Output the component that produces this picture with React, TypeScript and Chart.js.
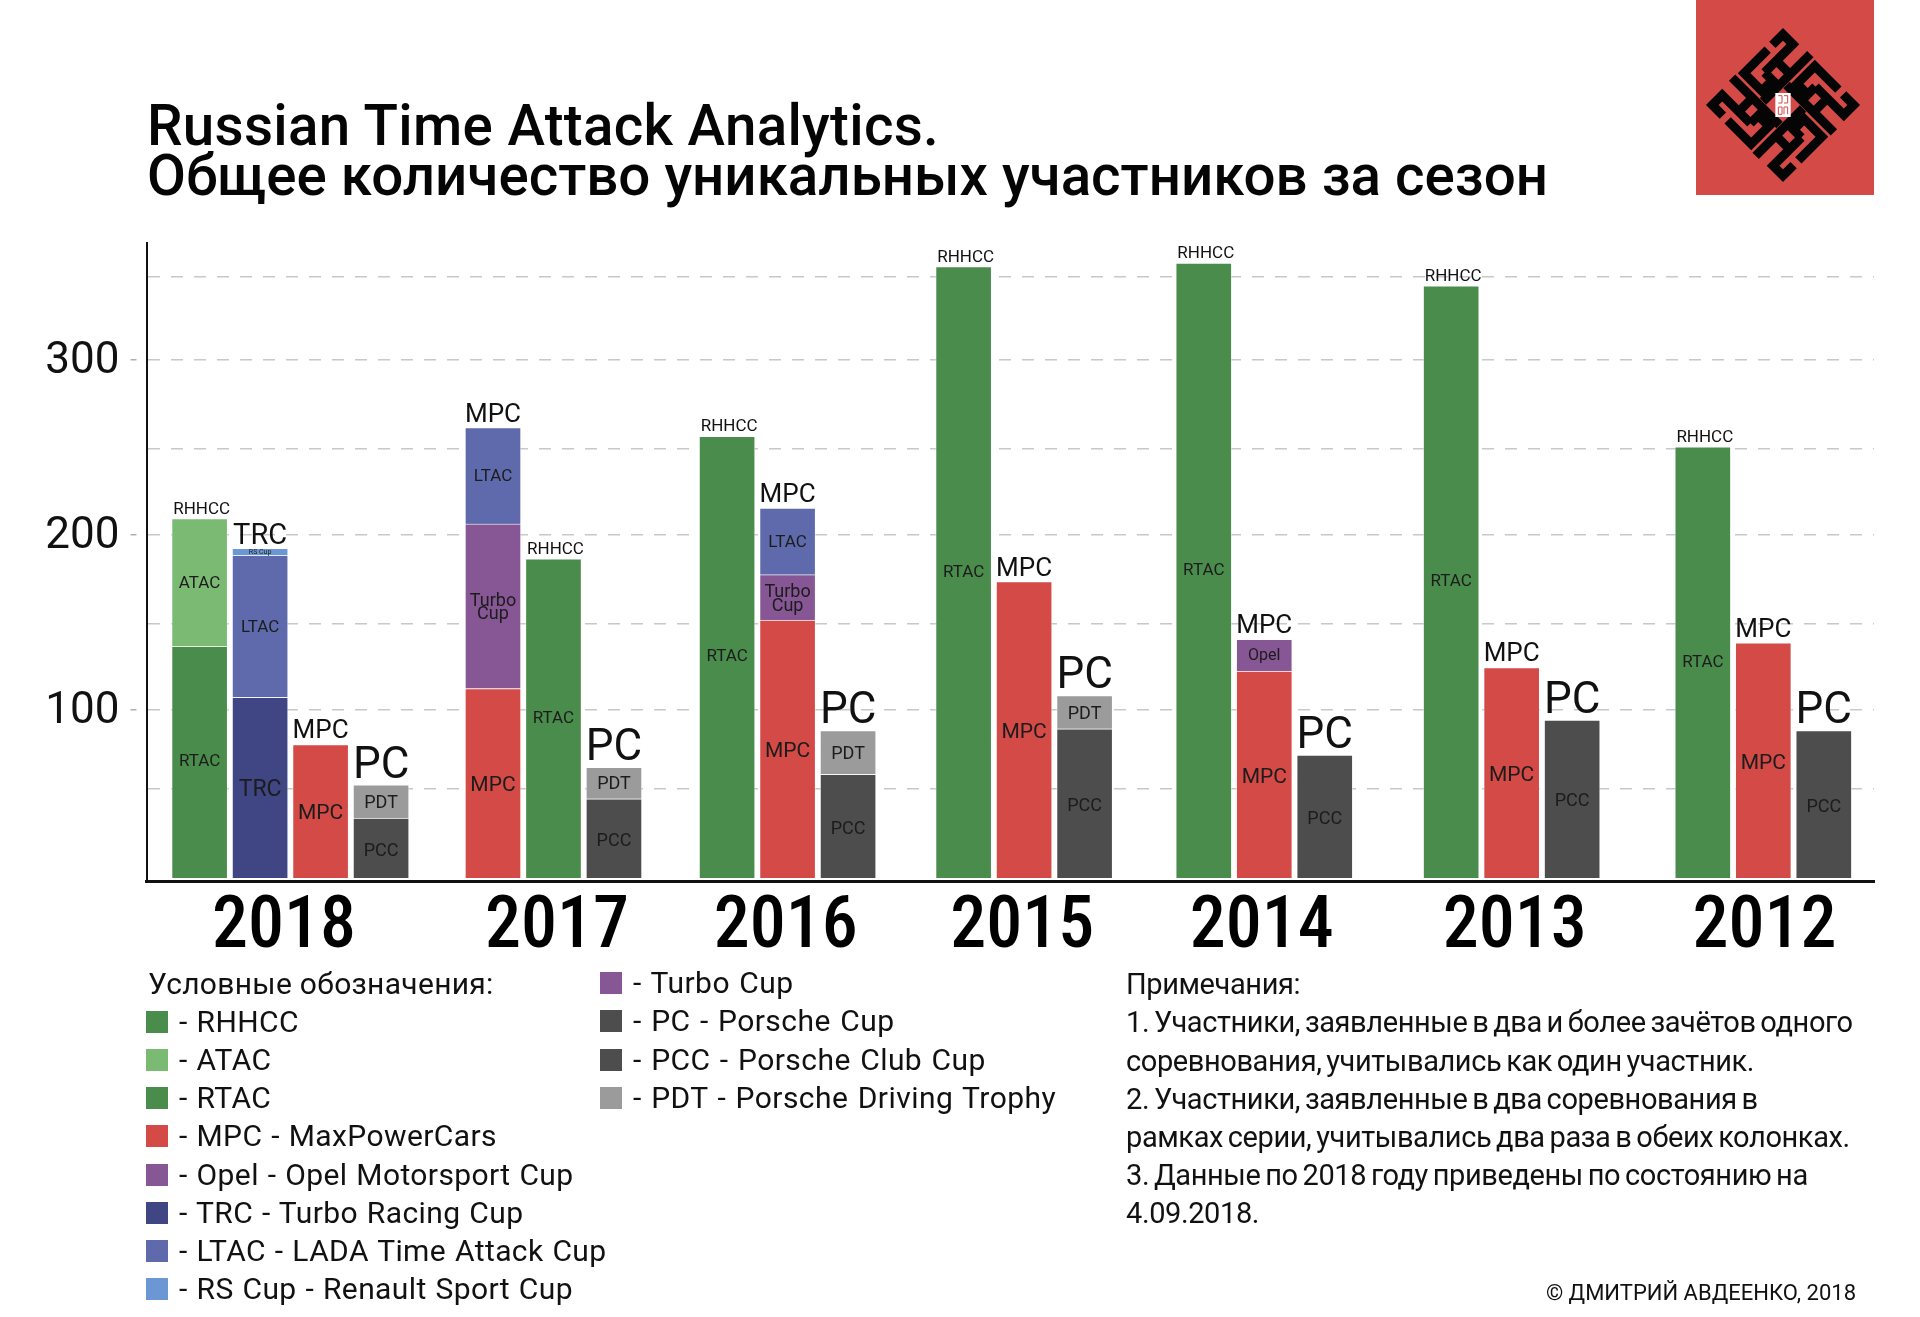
import React, { useEffect, useRef } from "react";
import { Chart, registerables } from "chart.js";

Chart.register(...registerables);

const titleLines = ["Russian Time Attack Analytics.", "Общее количество уникальных участников за сезон"];
const years = ["2018", "2017", "2016", "2015", "2014", "2013", "2012"];
const columnHeaders = [
  "RHHCC", "TRC", "MPC", "PC",
  "MPC", "RHHCC", "PC",
  "RHHCC", "MPC", "PC",
  "RHHCC", "MPC", "PC",
  "RHHCC", "MPC", "PC",
  "RHHCC", "MPC", "PC",
  "RHHCC", "MPC", "PC",
];
const rtac = [136, 0, 0, 0, 0, 186, 0, 256, 0, 0, 353, 0, 0, 355, 0, 0, 342, 0, 0, 250, 0, 0];
const atac = [73, 0, 0, 0, 0, 0, 0, 0, 0, 0, 0, 0, 0, 0, 0, 0, 0, 0, 0, 0, 0, 0];
const trc = [0, 107, 0, 0, 0, 0, 0, 0, 0, 0, 0, 0, 0, 0, 0, 0, 0, 0, 0, 0, 0, 0];
const mpc = [0, 0, 80, 0, 112, 0, 0, 0, 151, 0, 0, 173, 0, 0, 122, 0, 0, 124, 0, 0, 138, 0];
const opel = [0, 0, 0, 0, 0, 0, 0, 0, 0, 0, 0, 0, 0, 0, 18, 0, 0, 0, 0, 0, 0, 0];
const turbo = [0, 0, 0, 0, 94, 0, 0, 0, 26, 0, 0, 0, 0, 0, 0, 0, 0, 0, 0, 0, 0, 0];
const ltac = [0, 81, 0, 0, 55, 0, 0, 0, 38, 0, 0, 0, 0, 0, 0, 0, 0, 0, 0, 0, 0, 0];
const rsCup = [0, 4, 0, 0, 0, 0, 0, 0, 0, 0, 0, 0, 0, 0, 0, 0, 0, 0, 0, 0, 0, 0];
const pcc = [0, 0, 0, 38, 0, 0, 49, 0, 0, 63, 0, 0, 89, 0, 0, 74, 0, 0, 94, 0, 0, 88];
const pdt = [0, 0, 0, 19, 0, 0, 18, 0, 0, 25, 0, 0, 19, 0, 0, 0, 0, 0, 0, 0, 0, 0];

const gridValues = [54.5, 100, 149, 200, 249, 300, 347];
const labeledTicks = [100, 200, 300];

const legendLeft = [
  ["Условные обозначения:", ""],
  ["- RHHCC", "#4a8c4c"],
  ["- ATAC", "#7bba73"],
  ["- RTAC", "#4a8c4c"],
  ["- MPC - MaxPowerCars", "#d34a46"],
  ["- Opel - Opel Motorsport Cup", "#865794"],
  ["- TRC - Turbo Racing Cup", "#3f4683"],
  ["- LTAC - LADA Time Attack Cup", "#5e6aac"],
  ["- RS Cup - Renault Sport Cup", "#6b98d4"],
];
const legendRight = [
  ["- Turbo Cup", "#865794"],
  ["- PC - Porsche Cup", "#4d4d4d"],
  ["- PCC - Porsche Club Cup", "#4d4d4d"],
  ["- PDT - Porsche Driving Trophy", "#9b9b9b"],
];
const notes = [
  "Примечания:",
  "1. Участники, заявленные в два и более зачётов одного",
  "соревнования, учитывались как один участник.",
  "2. Участники, заявленные в два соревнования в",
  "рамках серии, учитывались два раза в обеих колонках.",
  "3. Данные по 2018 году приведены по состоянию на",
  "4.09.2018.",
];
const credit = "© ДМИТРИЙ АВДЕЕНКО, 2018";

// layout of the horizontal axis, in column widths
const groupStarts = [0, 4.85, 8.72, 12.63, 16.6, 20.69, 24.85];
const groupSizes = [4, 3, 3, 3, 3, 3, 3];
const yearTicks = [1.395, 5.91, 9.69, 13.6, 17.56, 21.74, 25.87];
const barFloor = 3.7;

const FONT = "Roboto";
const series = [
  { label: "RTAC", values: rtac, color: "#4a8c4c", size: 17, dy: 0 },
  { label: "ATAC", values: atac, color: "#7bba73", size: 17, dy: 1 },
  { label: "TRC", values: trc, color: "#3f4683", size: 23, dy: 3 },
  { label: "MPC", values: mpc, color: "#d34a46", size: 21, dy: 3 },
  { label: "Opel", values: opel, color: "#865794", size: 16, dy: 1 },
  { label: "Turbo\nCup", values: turbo, color: "#865794", size: 18, dy: 2 },
  { label: "LTAC", values: ltac, color: "#5e6aac", size: 17, dy: 1 },
  { label: "RS Cup", values: rsCup, color: "#6b98d4", size: 7, dy: 0 },
  { label: "PCC", values: pcc, color: "#4d4d4d", size: 18, dy: 3 },
  { label: "PDT", values: pdt, color: "#9b9b9b", size: 18, dy: 2 },
];
const headerFont: Record<string, [number, number]> = { RHHCC: [17, 5], TRC: [29, 4], MPC: [26, 6], PC: [44, 7] };

function columnSlots() {
  const out: number[] = [];
  groupStarts.forEach((s, g) => {
    for (let i = 0; i < groupSizes[g]; i++) out.push(s + i);
  });
  return out;
}

function buildDatasets() {
  const slots = columnSlots();
  const running = slots.map(() => 0);
  return series.map((s) => {
    const points: any[] = [];
    s.values.forEach((v, i) => {
      if (!v) return;
      const start = running[i] === 0 ? barFloor : running[i];
      running[i] += v;
      points.push({ x: slots[i], y: [start, running[i]], col: i });
    });
    return {
      label: s.label,
      data: points,
      backgroundColor: s.color,
      borderColor: "rgba(255,255,255,0.45)",
      borderWidth: 1,
      barThickness: 56,
      size: s.size,
      dy: s.dy,
    };
  });
}

const barLabelPlugin = {
  id: "barLabels",
  afterDatasetsDraw(chart: any) {
    const ctx = chart.ctx;
    ctx.save();
    ctx.textAlign = "center";
    ctx.textBaseline = "middle";
    ctx.fillStyle = "#1c1c1c";
    const tops: Record<number, { x: number; y: number }> = {};
    chart.data.datasets.forEach((ds: any, di: number) => {
      const meta = chart.getDatasetMeta(di);
      meta.data.forEach((bar: any, i: number) => {
        const col = ds.data[i].col;
        if (!tops[col] || bar.y < tops[col].y) tops[col] = { x: bar.x, y: bar.y };
        ctx.font = `400 ${ds.size}px ${FONT}`;
        const lines = ds.label.split("\n");
        const mid = (bar.y + bar.base) / 2 + ds.dy;
        lines.forEach((t: string, k: number) => {
          ctx.fillText(t, bar.x, mid + (k - (lines.length - 1) / 2) * 13.5);
        });
      });
    });
    ctx.textBaseline = "alphabetic";
    ctx.fillStyle = "#111";
    Object.keys(tops).forEach((k) => {
      const col = Number(k);
      const h = columnHeaders[col];
      const [size, gap] = headerFont[h];
      ctx.font = `400 ${size}px ${FONT}`;
      ctx.fillText(h, tops[col].x + (h === "RHHCC" ? 2 : 0), tops[col].y - gap);
    });
    ctx.restore();
  },
};

function Logo() {
  const piece = "M-150 -105 L-150 -150 L-108 -150 L-108 -30 M-150 -85 L-150 15 L-75 15 L-75 -30 M-50 35 L-50 -166 M-108 -30 L-50 -30 M-108 -80 L-50 -80";
  return (
    <svg width={178} height={195} style={{ position: "absolute", left: 1696, top: 0 }}>
      <rect x={0} y={0} width={178} height={195} fill="#d34a46" />
      <g transform="translate(87,105) scale(0.3333)">
        {[45, 135, 225, 315].map((r) => (
          <path key={r} d={piece} transform={`rotate(${r})`} fill="none" stroke="#050505" strokeWidth={27} />
        ))}
        <rect x={-23} y={-36} width={46} height={72} fill="#fff" />
        <path d="M-14 -28 H-3 V-6 H-14 M3 -28 H14 V-6 H3 M-14 6 V28 H-3 V6 Z M3 28 V6 H14 V28" fill="none" stroke="#d34a46" strokeWidth={3} />
      </g>
    </svg>
  );
}

const textBase: React.CSSProperties = { position: "absolute", whiteSpace: "pre", fontFamily: FONT, color: "#111" };

export default function App() {
  const ref = useRef<HTMLCanvasElement>(null);
  useEffect(() => {
    const chart = new Chart(ref.current!, {
      type: "bar",
      data: { datasets: buildDatasets() as any },
      plugins: [barLabelPlugin as any],
      options: {
        responsive: false,
        animation: false,
        layout: { padding: { left: 0, right: 46, top: 243, bottom: 0 } },
        plugins: { legend: { display: false }, title: { display: false }, tooltip: { enabled: false } },
        scales: {
          x: {
            type: "linear",
            stacked: true,
            offset: false,
            min: -0.878,
            max: 27.68,
            afterBuildTicks(scale: any) {
              scale.ticks = yearTicks.map((value) => ({ value }));
            },
            afterFit(scale: any) {
              scale.height = 436;
            },
            ticks: {
              autoSkip: false,
              maxRotation: 0,
              padding: 5,
              color: "#000",
              font: { family: FONT, size: 72, weight: "500 condensed" },
              callback: (_v: any, i: number) => years[i],
            },
            grid: { display: false, drawTicks: false },
            border: { display: true, color: "#111", width: 3 },
          },
          y: {
            min: 2,
            max: 366.5,
            afterBuildTicks(scale: any) {
              scale.ticks = gridValues.map((value) => ({ value }));
            },
            afterFit(scale: any) {
              scale.width = 146.5;
            },
            ticks: {
              autoSkip: false,
              padding: 11,
              labelOffset: 3,
              color: "#111",
              font: { family: FONT, size: 44 },
              callback: (v: any) => (labeledTicks.includes(v) ? String(v) : ""),
            },
            grid: {
              color: "#c8c8c8",
              lineWidth: 1.5,
              tickLength: 16,
              tickWidth: 1.5,
              tickBorderDash: [6, 10],
              tickColor: (c: any) => (c.tick && labeledTicks.includes(c.tick.value) ? "#b0b0b0" : "rgba(0,0,0,0)"),
            } as any,
            border: { display: true, color: "#111", width: 2, dash: [12, 11] } as any,
          },
        },
      },
    } as any);
    return () => chart.destroy();
  }, []);

  const leftRows = [984, 1022, 1060, 1098, 1136, 1175, 1213, 1251, 1289];
  const rightRows = [983, 1021, 1060, 1098];
  const noteRows = [984, 1022, 1061, 1099, 1137, 1175, 1213];

  return (
    <div style={{ position: "absolute", left: 0, top: 0, width: 1920, height: 1317, overflow: "hidden", background: "#fff" }}>
      <canvas ref={ref} width={1920} height={1317} style={{ position: "absolute", left: 0, top: 0 }} />
      <div style={{ ...textBase, left: 147, top: 101, fontSize: 56.5, lineHeight: "50px", fontWeight: 500, color: "#050505" }}>
        <div style={{ letterSpacing: 0.3 }}>{titleLines[0]}</div>
        <div>{titleLines[1]}</div>
      </div>
      <Logo />
      {legendLeft.map(([t, c], i) => (
        <React.Fragment key={t}>
          {c ? <div style={{ position: "absolute", left: 146, top: leftRows[i] - 11, width: 22, height: 22, background: c }} /> : null}
          <div style={{ ...textBase, left: c ? 179 : 148, top: leftRows[i] - 20, fontSize: 30, lineHeight: "40px", letterSpacing: c ? 0.4 : 0.3, wordSpacing: c ? 1 : 0 }}>{t}</div>
        </React.Fragment>
      ))}
      {legendRight.map(([t, c], i) => (
        <React.Fragment key={t}>
          <div style={{ position: "absolute", left: 600, top: rightRows[i] - 11, width: 22, height: 22, background: c }} />
          <div style={{ ...textBase, left: 633, top: rightRows[i] - 20, fontSize: 30, lineHeight: "40px", letterSpacing: 0.45, wordSpacing: 1.5 }}>{t}</div>
        </React.Fragment>
      ))}
      {notes.map((t, i) => (
        <div key={t} style={{ ...textBase, left: 1126, top: noteRows[i] - 20, fontSize: 29, lineHeight: "40px", letterSpacing: -0.4, wordSpacing: -2 }}>{t}</div>
      ))}
      <div style={{ ...textBase, right: 64, top: 1278, fontSize: 22, lineHeight: "30px" }}>{credit}</div>
    </div>
  );
}
